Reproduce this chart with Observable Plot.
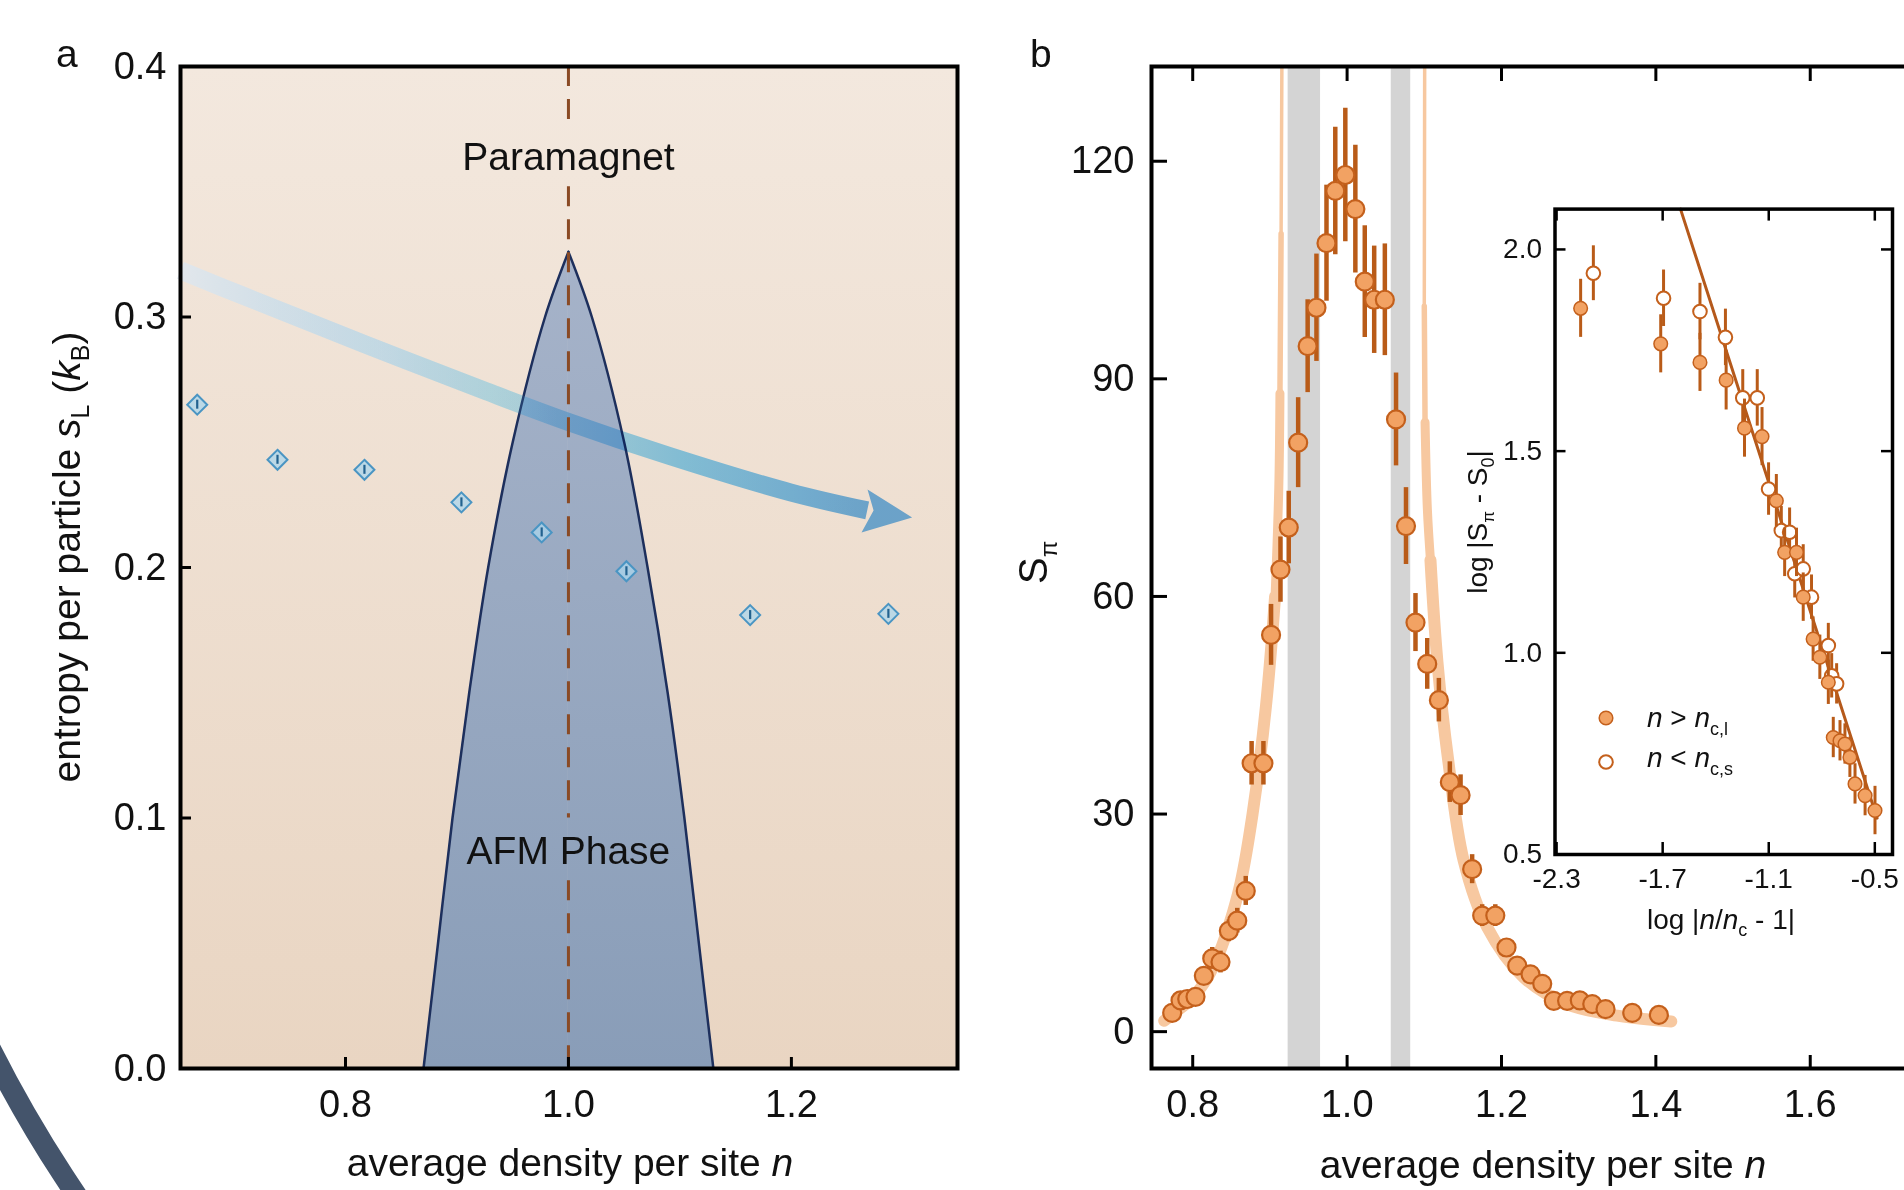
<!DOCTYPE html>
<html>
<head>
<meta charset="utf-8">
<script src="https://cdn.jsdelivr.net/npm/d3@7"></script>
<script src="https://cdn.jsdelivr.net/npm/@observablehq/plot@0.6"></script>
<style>
  html, body { margin:0; padding:0; background:#fff; overflow:hidden; }
  #root { position:relative; width:1904px; height:1190px; overflow:hidden; background:#fff; }
  .panel { position:absolute; }
  .panel svg { display:block; max-width:none !important; }
</style>
</head>
<body>
<div id="root">
<svg width="0" height="0" style="position:absolute;left:0;top:0">
  <defs>
    <linearGradient id="gBgA" x1="0" y1="0" x2="0" y2="1">
      <stop offset="0" stop-color="#f3e8de"/>
      <stop offset="1" stop-color="#e9d5c2"/>
    </linearGradient>
    <linearGradient id="gDome" x1="0" y1="0" x2="0" y2="1">
      <stop offset="0" stop-color="#a6b3c9"/>
      <stop offset="1" stop-color="#899db8"/>
    </linearGradient>
    <linearGradient id="gArrowBase" x1="0" y1="0" x2="1" y2="0">
      <stop offset="0" stop-color="#dfe7ef" stop-opacity="0.85"/>
      <stop offset="0.3" stop-color="#c9deeb" stop-opacity="0.6"/>
      <stop offset="0.55" stop-color="#b5d5e8" stop-opacity="0"/>
      <stop offset="1" stop-color="#b5d5e8" stop-opacity="0"/>
    </linearGradient>
    <linearGradient id="gArrow" x1="0" y1="0" x2="1" y2="0">
      <stop offset="0" stop-color="#ffffff"/>
      <stop offset="0.3" stop-color="#e4f6ff"/>
      <stop offset="0.45" stop-color="#c4efff"/>
      <stop offset="0.73" stop-color="#8bd6ff"/>
      <stop offset="0.89" stop-color="#7cc6fb"/>
      <stop offset="1" stop-color="#73b9f4"/>
    </linearGradient>
  </defs>
</svg>
</div>
<script>
const FONT = '"Liberation Sans", Arial, Helvetica, sans-serif';

// ---------------- Panel a data ----------------
const aTicksX = [0.8, 1.0, 1.2];
const aTicksY = [0.0, 0.1, 0.2, 0.3, 0.4];
const entropyN = [0.667, 0.739, 0.817, 0.904, 0.976, 1.052, 1.163, 1.287];
const entropyS = [0.265, 0.243, 0.239, 0.226, 0.214, 0.1985, 0.181, 0.1815];
const entropyErr = [0.0018, 0.0018, 0.0018, 0.0018, 0.0018, 0.0018, 0.0018, 0.0018];
const domeN = [0.870, 0.883, 0.896, 0.911, 0.928, 0.950, 0.979, 1.000, 1.021, 1.050, 1.071, 1.089, 1.104, 1.117, 1.130];
const domeS = [0.000, 0.050, 0.100, 0.150, 0.200, 0.250, 0.300, 0.326, 0.300, 0.250, 0.200, 0.150, 0.100, 0.050, 0.000];
const arrowN = [0.652, 0.708, 0.817, 0.9265, 1.000, 1.090, 1.199, 1.268];
const arrowS = [0.3186, 0.3085, 0.2892, 0.2703, 0.2581, 0.2446, 0.2300, 0.2228];
const headN = [1.2683, 1.3083, 1.2629, 1.2737, 1.2683];
const headS = [0.2311, 0.2200, 0.2140, 0.2228, 0.2311];
const dashN = [1.0, 1.0, 1.0];
const dashTop = [0.400, 0.352, 0.075];
const dashBottom = [0.378, 0.100, 0.000];
const phaseText = ["Paramagnet", "AFM Phase"];
const phaseN = [1.0, 1.0];
const phaseS = [0.3635, 0.0868];

// ---------------- Panel b data ----------------
const bTicksX = [0.8, 1.0, 1.2, 1.4, 1.6];
const bTicksY = [0, 30, 60, 90, 120];
const bandFrom = [0.9236, 1.0572];
const bandTo = [0.9656, 1.0824];
const sN = [0.7734, 0.7842, 0.7929, 0.8036, 0.8144, 0.8253, 0.8360, 0.8468, 0.8577, 0.8687, 0.8763, 0.8916, 0.9015,
            0.9137, 0.9244, 0.9366, 0.9489, 0.9603, 0.9733, 0.9847, 0.9977, 1.0107, 1.0229, 1.0351, 1.0489, 1.0634, 1.0763,
            1.0886, 1.1038, 1.1189, 1.1331, 1.1470, 1.1620, 1.1750, 1.1920, 1.2065, 1.2204, 1.2376, 1.2528, 1.2678, 1.2850,
            1.3015, 1.3176, 1.3348, 1.3694, 1.4039];
const sS = [2.6, 4.3, 4.5, 4.8, 7.7, 10.1, 9.6, 13.9, 15.3, 19.4, 37.0, 37.0, 54.7,
            63.7, 69.5, 81.2, 94.5, 99.8, 108.7, 115.9, 118.1, 113.4, 103.4, 100.9, 100.9, 84.4, 69.7,
            56.4, 50.7, 45.7, 34.4, 32.6, 22.4, 16.0, 16.0, 11.6, 9.1, 7.9, 6.6, 4.25, 4.25,
            4.3, 3.8, 3.1, 2.6, 2.3];
const sErr = [1.0, 1.0, 1.0, 1.0, 1.2, 1.5, 1.5, 1.5, 1.7, 2.0, 3.0, 3.0, 4.2,
              4.5, 5.0, 6.2, 6.4, 7.4, 8.0, 8.8, 9.2, 8.8, 7.7, 7.4, 7.7, 6.4, 5.3,
              4.0, 3.5, 3.0, 2.8, 2.8, 2.0, 1.5, 1.5, 1.2, 1.0, 1.0, 1.0, 1.0, 0.8,
              0.8, 0.8, 0.8, 0.8, 0.8];
const fitLeftN = [0.763, 0.780, 0.800, 0.820, 0.835, 0.848, 0.862, 0.8775, 0.895, 0.9067, 0.9115, 0.913, 0.9145, 0.9155];
const fitLeftS = [1.5, 2.9, 4.7, 7.6, 11.0, 15.0, 20.5, 30.0, 45.0, 60.0, 75.0, 88.0, 110.0, 133.0];
const fitRightN = [1.1005, 1.100, 1.101, 1.104, 1.108, 1.117, 1.131, 1.151, 1.1815, 1.2287, 1.285, 1.350, 1.420];
const fitRightS = [133.0, 100.0, 84.0, 72.0, 65.0, 51.0, 37.4, 23.6, 14.4, 7.5, 3.8, 2.2, 1.4];

// ---------------- Inset data ----------------
const iTicksX = [-2.3, -1.7, -1.1, -0.5];
const iTicksY = [0.5, 1.0, 1.5, 2.0];
const filledX = [-2.164, -1.711, -1.489, -1.341, -1.237, -1.138, -1.057, -1.010, -0.943, -0.905, -0.849, -0.811,
                 -0.763, -0.735, -0.697, -0.669, -0.641, -0.612, -0.555, -0.499];
const filledY = [1.854, 1.766, 1.720, 1.676, 1.557, 1.536, 1.377, 1.249, 1.249, 1.138, 1.034, 0.989,
                 0.927, 0.790, 0.782, 0.774, 0.741, 0.675, 0.646, 0.609];
const filledErr = [0.072, 0.072, 0.072, 0.074, 0.072, 0.072, 0.065, 0.060, 0.060, 0.060, 0.055, 0.055,
                   0.055, 0.050, 0.050, 0.050, 0.050, 0.050, 0.050, 0.060];
const openX = [-2.092, -1.695, -1.489, -1.345, -1.247, -1.165, -1.101, -1.029, -0.982, -0.953, -0.905, -0.858,
               -0.763, -0.744, -0.716];
const openY = [1.941, 1.879, 1.846, 1.782, 1.632, 1.632, 1.406, 1.303, 1.299, 1.196, 1.208, 1.138,
               1.018, 0.943, 0.923];
const openErr = [0.068, 0.070, 0.070, 0.070, 0.070, 0.070, 0.065, 0.060, 0.060, 0.060, 0.060, 0.055,
                 0.055, 0.055, 0.050];
const fitLineX = [-1.599, -0.487];
const fitLineY = [2.1, 0.59];

// ---------------- tables ----------------
const entropy = entropyN.map((n, i) => ({n, s: entropyS[i], e: entropyErr[i]}));
const dome = domeN.map((n, i) => ({n, s: domeS[i], half: n <= 1.0 ? "L" : "R"}));
const domePeak = dome.find(d => d.n === 1.0);
const domeHalves = [
  ...dome.filter(d => d.half === "L"),
  {...domePeak, half: "R"},
  ...dome.filter(d => d.half === "R")
];
const arrow = arrowN.map((n, i) => ({n, s: arrowS[i]}));
const head = headN.map((n, i) => ({n, s: headS[i]}));
const dashes = dashN.map((n, i) => ({n, y1: dashTop[i], y2: dashBottom[i]}));
const phases = phaseText.map((t, i) => ({t, n: phaseN[i], s: phaseS[i]}));
const bands = bandFrom.map((lo, i) => ({lo, hi: bandTo[i]}));
const mainPts = sN.map((n, i) => ({n, S: sS[i], e: sErr[i]}));
const fit = [
  ...fitLeftN.map((n, i) => ({n, S: fitLeftS[i], side: "L"})),
  ...fitRightN.map((n, i) => ({n, S: fitRightS[i], side: "R"}))
];
// band drawn thinner as it climbs toward the divergence
const fitBands = [
  {lo: -10, hi: 66, w: 12},
  {lo: 58, hi: 90, w: 9},
  {lo: 83, hi: 112, w: 5.5},
  {lo: 99, hi: 140, w: 3.5}
];
const filled = filledX.map((x, i) => ({x, y: filledY[i], e: filledErr[i]}));
const open = openX.map((x, i) => ({x, y: openY[i], e: openErr[i]}));
const fitLine = fitLineX.map((x, i) => ({x, y: fitLineY[i]}));

const root = document.getElementById("root");
function place(svg, left, top) {
  const d = document.createElement("div");
  d.className = "panel";
  d.style.left = left + "px";
  d.style.top = top + "px";
  d.style.width = svg.getAttribute("width") + "px";
  d.appendChild(svg);
  root.appendChild(d);
}

// ---------------- Panel a ----------------
const A = {w: 1000, h: 1190, ml: 180, mr: 43, mt: 66, mb: 122};
const fwA = A.w - A.ml - A.mr, fhA = A.h - A.mt - A.mb;
const plotA = Plot.plot({
  width: A.w, height: A.h,
  marginLeft: A.ml, marginRight: A.mr, marginTop: A.mt, marginBottom: A.mb,
  x: {domain: [0.652, 1.349], label: null},
  y: {domain: [0, 0.4], label: null},
  style: {fontFamily: FONT, fontSize: "38px", background: "transparent", color: "#111", maxWidth: "none"},
  marks: [
    Plot.frame({fill: "url(#gBgA)"}),
    Plot.areaY(domeHalves, {x: "n", y1: 0, y2: "s", z: "half", fill: "url(#gDome)", curve: "catmull-rom"}),
    Plot.line(domeHalves, {x: "n", y: "s", z: "half", stroke: "#1d2f5c", strokeWidth: 2.5, curve: "catmull-rom"}),
    Plot.dot(entropy, {x: "n", y: "s", symbol: "diamond2", r: 9, fill: "#abd6ec", fillOpacity: 0.75, stroke: "#4a95c3", strokeWidth: 2}),
    Plot.ruleX(entropy, {x: "n", y1: d => d.s - d.e, y2: d => d.s + d.e, stroke: "#22628f", strokeWidth: 2.2}),
    Plot.line(arrow, {x: "n", y: "s", stroke: "url(#gArrowBase)", strokeWidth: 18, curve: "catmull-rom", strokeLinecap: "butt"}),
    Plot.line(arrow, {x: "n", y: "s", stroke: "url(#gArrow)", strokeWidth: 18, curve: "catmull-rom", strokeLinecap: "butt", mixBlendMode: "multiply"}),
    Plot.line(head, {x: "n", y: "s", fill: "#73b9f4", stroke: "none", curve: "linear", mixBlendMode: "multiply"}),
    Plot.ruleX(dashes, {x: "n", y1: "y1", y2: "y2", stroke: "#8a4a24", strokeWidth: 3, strokeDasharray: "20,13"}),
    Plot.text(phases, {x: "n", y: "s", text: "t", fontSize: 39, fill: "#111"}),
    Plot.ruleY(aTicksY, {insetRight: fwA - 11, stroke: "#000", strokeWidth: 3}),
    Plot.ruleX(aTicksX, {insetTop: fhA - 11, stroke: "#000", strokeWidth: 3}),
    Plot.axisY({ticks: aTicksY, tickSize: 0, tickPadding: 14, tickFormat: d => d.toFixed(1), label: null}),
    Plot.axisX({ticks: aTicksX, tickSize: 0, tickPadding: 22, tickFormat: d => d.toFixed(1), label: null}),
    Plot.frame({stroke: "#000", strokeWidth: 4})
  ]
});
place(plotA, 0, 0);

// ---------------- Panel b ----------------
const B = {w: 960, h: 1190, ml: 161, mr: 20, mt: 66, mb: 122};
const fwB = B.w - B.ml - B.mr, fhB = B.h - B.mt - B.mb;
const yDomB = [-5.08, 133.06];
const plotB = Plot.plot({
  width: B.w, height: B.h,
  marginLeft: B.ml, marginRight: B.mr, marginTop: B.mt, marginBottom: B.mb,
  x: {domain: [0.7466, 1.7558], label: null},
  y: {domain: yDomB, label: null},
  style: {fontFamily: FONT, fontSize: "38px", background: "transparent", color: "#111", maxWidth: "none"},
  marks: [
    Plot.rect(bands, {x1: "lo", x2: "hi", y1: yDomB[0], y2: yDomB[1], fill: "#d4d4d4"}),
    ...fitBands.map(b => Plot.line(fit.filter(d => d.S >= b.lo && d.S <= b.hi),
      {x: "n", y: "S", z: "side", stroke: "#f7c8a0", strokeWidth: b.w, curve: "catmull-rom", strokeLinecap: "round"})),
    Plot.ruleX(mainPts, {x: "n", y1: d => d.S - d.e, y2: d => d.S + d.e, stroke: "#b95b18", strokeWidth: 4.5}),
    Plot.dot(mainPts, {x: "n", y: "S", r: 9, fill: "#f2a263", stroke: "#c4601c", strokeWidth: 2.2}),
    Plot.ruleY(bTicksY, {insetRight: fwB - 16, stroke: "#000", strokeWidth: 3}),
    Plot.ruleX(bTicksX, {insetBottom: fhB - 15, stroke: "#000", strokeWidth: 3}),
    Plot.ruleX(bTicksX, {insetTop: fhB - 13, stroke: "#000", strokeWidth: 3}),
    Plot.axisY({ticks: bTicksY, tickSize: 0, tickPadding: 17, tickFormat: d => String(d), label: null}),
    Plot.axisX({ticks: bTicksX, tickSize: 0, tickPadding: 22, tickFormat: d => d.toFixed(1), label: null}),
    Plot.frame({stroke: "#000", strokeWidth: 4})
  ]
});
place(plotB, 990, 0);

// ---------------- Inset ----------------
const I = {w: 464, h: 800, ml: 114.5, mr: 12, mt: 58.6, mb: 96};
const fwI = I.w - I.ml - I.mr, fhI = I.h - I.mt - I.mb;
const plotI = Plot.plot({
  width: I.w, height: I.h,
  marginLeft: I.ml, marginRight: I.mr, marginTop: I.mt, marginBottom: I.mb,
  x: {domain: [-2.309, -0.40], label: null},
  y: {domain: [0.5, 2.1], label: null},
  style: {fontFamily: FONT, fontSize: "28px", background: "transparent", color: "#111", maxWidth: "none"},
  marks: [
    Plot.frame({fill: "#fff"}),
    Plot.line(fitLine, {x: "x", y: "y", stroke: "#b5591b", strokeWidth: 3}),
    Plot.ruleX(open, {x: "x", y1: d => d.y - d.e, y2: d => d.y + d.e, stroke: "#b95b18", strokeWidth: 3}),
    Plot.dot(open, {x: "x", y: "y", r: 6.8, fill: "#fff", stroke: "#c4601c", strokeWidth: 2}),
    Plot.ruleX(filled, {x: "x", y1: d => d.y - d.e, y2: d => d.y + d.e, stroke: "#b95b18", strokeWidth: 3}),
    Plot.dot(filled, {x: "x", y: "y", r: 6.8, fill: "#f2a263", stroke: "#c4601c", strokeWidth: 1.5}),
    Plot.ruleY(iTicksY, {insetRight: fwI - 11, stroke: "#000", strokeWidth: 2.5}),
    Plot.ruleY(iTicksY, {insetLeft: fwI - 11, stroke: "#000", strokeWidth: 2.5}),
    Plot.ruleX(iTicksX, {insetBottom: fhI - 12, stroke: "#000", strokeWidth: 2.5}),
    Plot.ruleX(iTicksX, {insetTop: fhI - 12, stroke: "#000", strokeWidth: 2.5}),
    Plot.axisY({ticks: iTicksY, tickSize: 0, tickPadding: 13, tickFormat: d => d.toFixed(1), label: null}),
    Plot.axisX({ticks: iTicksX, tickSize: 0, tickPadding: 14, tickFormat: d => d.toFixed(1), label: null}),
    Plot.frame({stroke: "#000", strokeWidth: 3.5})
  ]
});
place(plotI, 1440, 150);

// ---------------- overlay texts & decoration ----------------
const ov = d3.select(root).append("svg")
  .attr("width", 1904).attr("height", 1190)
  .style("position", "absolute").style("left", "0px").style("top", "0px")
  .style("pointer-events", "none")
  .attr("font-family", FONT);

// decorative arc at lower-left corner
ov.append("circle").attr("cx", 1156).attr("cy", 462).attr("r", 1305)
  .attr("fill", "none").attr("stroke", "#44546b").attr("stroke-width", 21);

function label(x, y, parts, {size = 39, anchor = "middle", rotate = 0} = {}) {
  const t = ov.append("text")
    .attr("transform", `translate(${x},${y}) rotate(${rotate})`)
    .attr("text-anchor", anchor).attr("font-size", size).attr("fill", "#111");
  for (const p of parts) {
    const ts = t.append("tspan").text(p.t);
    if (p.i) ts.attr("font-style", "italic");
    if (p.size) ts.attr("font-size", p.size);
    if (p.dy) ts.attr("dy", p.dy);
  }
  return t;
}

label(56, 67, [{t: "a"}], {anchor: "start"});
label(1030, 67, [{t: "b"}], {anchor: "start"});

label(80, 557, [
  {t: "entropy per particle "}, {t: "s", i: true}, {t: "L", size: 25, dy: 9},
  {t: " (", dy: -9}, {t: "k", i: true}, {t: "B", size: 25, dy: 9}, {t: ")", dy: -9}
], {rotate: -90});
label(570, 1176, [{t: "average density per site "}, {t: "n", i: true}]);
label(1543, 1178, [{t: "average density per site "}, {t: "n", i: true}]);
label(1047, 584, [{t: "S"}, {t: "π", size: 24, dy: 10}], {anchor: "start", rotate: -90, size: 40});

label(1487, 522, [
  {t: "log |S"}, {t: "π", size: 17, dy: 7}, {t: " - S", dy: -7}, {t: "0", size: 18, dy: 7}, {t: "|", dy: -7}
], {size: 28, rotate: -90});
label(1721, 929, [
  {t: "log |"}, {t: "n", i: true}, {t: "/"}, {t: "n", i: true}, {t: "c", size: 18, dy: 7}, {t: " - 1|", dy: -7}
], {size: 28});

// inset legend
ov.append("circle").attr("cx", 1606).attr("cy", 718).attr("r", 6.8)
  .attr("fill", "#f2a263").attr("stroke", "#c4601c").attr("stroke-width", 1.5);
ov.append("circle").attr("cx", 1606).attr("cy", 762).attr("r", 6.8)
  .attr("fill", "#fff").attr("stroke", "#c4601c").attr("stroke-width", 2);
label(1647, 727, [{t: "n", i: true}, {t: " > "}, {t: "n", i: true}, {t: "c,l", size: 18, dy: 8}], {size: 28, anchor: "start"});
label(1647, 767, [{t: "n", i: true}, {t: " < "}, {t: "n", i: true}, {t: "c,s", size: 18, dy: 8}], {size: 28, anchor: "start"});
</script>
</body>
</html>
